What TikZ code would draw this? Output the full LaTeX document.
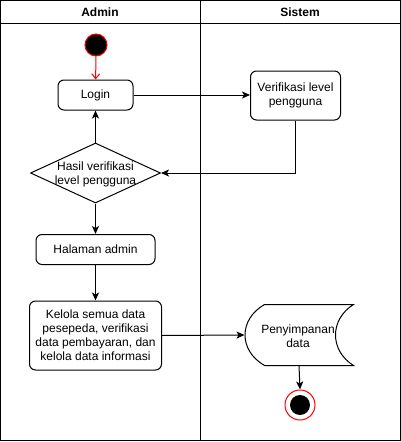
\documentclass[tikz,border=0pt]{standalone}
\usepackage{fontspec}
\setmainfont{Liberation Sans}
\usetikzlibrary{shapes.geometric,arrows.meta}
\begin{document}
\begin{tikzpicture}[x=1pt,y=-1pt,line width=1pt,
  every node/.style={font=\fontsize{12}{14}\selectfont},
  act/.style={draw, rounded corners=6pt, align=center, inner sep=0pt},
  arr/.style={-{Stealth[length=8pt,width=7pt,inset=2pt]}},
  hdr/.style={font=\fontsize{12}{14}\selectfont\bfseries}]
\useasboundingbox (0,0) rectangle (401,442);
% swimlanes
\draw (0.5,0.5) rectangle (400.5,440.5);
\draw (0.5,23) -- (400.5,23);
\draw (200.5,0.5) -- (200.5,440.5);
\node[hdr] (hA) at (100,12) {Admin};
\node[hdr] (hS) at (300,12) {Sistem};
% nodes
\node[circle, draw=red, fill=black, minimum size=22pt, inner sep=0pt] (start) at (96,45) {};
\node[act, minimum width=75pt, minimum height=30pt] (login) at (95.5,95) {Login};
\node[act, minimum width=90pt, minimum height=49pt] (verif) at (295.5,95.5) {Verifikasi level\\pengguna};
\node[diamond, draw, minimum width=130pt, minimum height=60pt, inner sep=0pt] (dec) at (95.5,173) {};
\node[align=center, inner sep=0pt] (dect) at (95.5,174) {Hasil verifikasi\\level pengguna};
\node[act, minimum width=119pt, minimum height=30pt] (hal) at (95.5,249.5) {Halaman admin};
\node[act, minimum width=132pt, minimum height=69pt] (kel) at (95.5,335.5) {Kelola semua data\\pesepeda, verifikasi\\data pembayaran, dan\\kelola data informasi};
\node[minimum width=108pt, minimum height=60pt, inner sep=0pt] (store) at (299,335) {};
\draw ([xshift=20pt]store.north west) -- (store.north east)
  .. controls ([xshift=-24pt,yshift=-15pt]store.north east) and ([xshift=-24pt,yshift=15pt]store.south east) .. (store.south east)
  -- ([xshift=20pt]store.south west)
  .. controls ([xshift=-6pt,yshift=15pt]store.south west) and ([xshift=-6pt,yshift=-15pt]store.north west) .. ([xshift=20pt]store.north west);
\node[align=center, inner sep=0pt] (storet) at (298,336) {Penyimpanan\\data};
\node[circle, draw=red, fill=white, minimum size=30pt, inner sep=0pt] (end) at (300,405) {};
\node[circle, fill=black, minimum size=20pt, inner sep=0pt] (endin) at (end) {};
% connectors
\draw[red, -{Straight Barb[length=5pt,width=8pt]}] (start) -- (login);
\draw[arr] (login) -- (login -| verif.west);
\draw[arr] (verif.south) |- (dec.east);
\draw[arr] (dec.north) -- (login.south);
\draw[arr] (dec.south) -- (hal.north);
\draw[arr] (hal.south) -- (kel.north);
\draw[arr] (kel.east) -- (store.west);
\draw[arr] (store.south) -- (end.north);
\end{tikzpicture}
\end{document}
